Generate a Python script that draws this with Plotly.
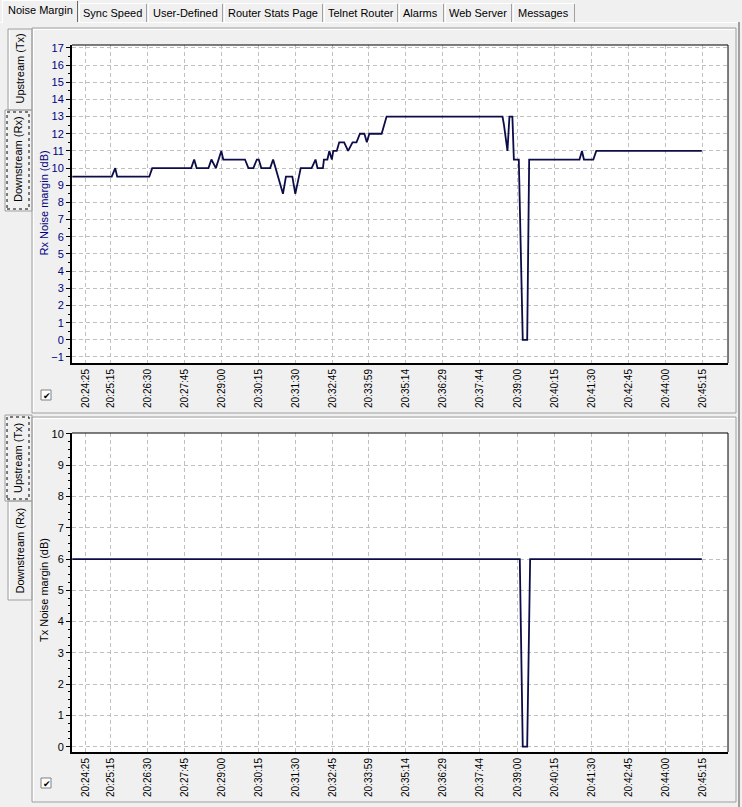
import plotly.graph_objects as go

W, H = 742, 807
DAY = "2024-01-01 "
FONT = "Liberation Sans, Arial, sans-serif"
LINE = "#0c0c48"
NAVY = "#000080"
GRID = "#c0c0c0"
FACE = "#f0f0f0"

tab_names = ["Noise Margin", "Sync Speed", "User-Defined", "Router Stats Page",
             "Telnet Router", "Alarms", "Web Server", "Messages"]

time_ticks = ["20:24:25", "20:25:15", "20:26:30", "20:27:45", "20:29:00", "20:30:15",
              "20:31:30", "20:32:45", "20:33:59", "20:35:14", "20:36:29", "20:37:44",
              "20:39:00", "20:40:15", "20:41:30", "20:42:45", "20:44:00", "20:45:15"]

# downstream (Rx) noise margin, dB
rx_times = ["20:23:58", "20:25:18", "20:25:25", "20:25:29", "20:26:34", "20:26:40",
            "20:27:59", "20:28:05", "20:28:10", "20:28:34", "20:28:40", "20:28:49",
            "20:29:00", "20:29:04", "20:29:48", "20:29:55", "20:30:05", "20:30:12",
            "20:30:16", "20:30:21", "20:30:39", "20:30:45", "20:30:50", "20:31:05",
            "20:31:11", "20:31:24", "20:31:30", "20:31:41", "20:32:03", "20:32:11",
            "20:32:15", "20:32:26", "20:32:28", "20:32:35", "20:32:39", "20:32:44",
            "20:32:47", "20:32:54", "20:32:59", "20:33:09", "20:33:17", "20:33:26",
            "20:33:34", "20:33:41", "20:33:50", "20:33:55", "20:34:00", "20:34:25",
            "20:34:35", "20:38:30", "20:38:33", "20:38:40", "20:38:44", "20:38:50",
            "20:38:53", "20:39:03", "20:39:11", "20:39:20", "20:39:24", "20:41:06",
            "20:41:11", "20:41:15", "20:41:34", "20:41:40", "20:45:14"]
rx_margin = [9.5, 9.5, 10, 9.5, 9.5, 10,
             10, 10.5, 10, 10, 10.5, 10,
             11, 10.5, 10.5, 10, 10, 10.5,
             10.5, 10, 10, 10.5, 10, 8.5,
             9.5, 9.5, 8.5, 10, 10, 10.5,
             10, 10, 10.5, 10.5, 11, 10.5,
             11, 11, 11.5, 11.5, 11, 11.5,
             11.5, 12, 12, 11.5, 12, 12,
             13, 13, 12.5, 11, 13, 13,
             10.5, 10.5, 0, 0, 10.5, 10.5,
             11, 10.5, 10.5, 11, 11]

# upstream (Tx) noise margin, dB
tx_times = ["20:23:58", "20:39:05", "20:39:11", "20:39:20", "20:39:26", "20:45:14"]
tx_margin = [6, 6, 0, 0, 6, 6]

x_range = [DAY + "20:23:57.4", DAY + "20:46:07"]


def px(x):
    return x / W


def py(y):
    return 1 - y / H


def time_axis(anchor):
    return dict(type="date", domain=[px(72), px(728)], range=x_range, anchor=anchor,
                tickmode="array", tickvals=[DAY + t for t in time_ticks], ticktext=time_ticks,
                tickangle=-90, tickfont=dict(family=FONT, size=10, color="black"),
                showgrid=True, gridcolor=GRID, gridwidth=1, griddash="4px,3px",
                showline=True, linecolor="black", linewidth=2, ticks="",
                zeroline=False, automargin=False, fixedrange=True)


def margin_axis(anchor, dom, rng, color, minor_step):
    return dict(domain=dom, range=rng, anchor=anchor, tickmode="linear", tick0=0, dtick=1,
                ticks="outside", ticklen=4, tickcolor="black", tickwidth=1,
                tickfont=dict(family=FONT, size=11, color=color),
                showgrid=True, gridcolor=GRID, gridwidth=1, griddash="4px,3px",
                showline=True, linecolor="black", linewidth=2, zeroline=False,
                minor=dict(ticks="outside", ticklen=2, dtick=minor_step,
                           tickcolor="black", showgrid=False),
                automargin=False, fixedrange=True)


fig = go.Figure()
fig.add_trace(go.Scatter(x=[DAY + t for t in rx_times], y=rx_margin, mode="lines",
                         line=dict(color=LINE, width=1.8), xaxis="x", yaxis="y",
                         showlegend=False))
fig.add_trace(go.Scatter(x=[DAY + t for t in tx_times], y=tx_margin, mode="lines",
                         line=dict(color=LINE, width=1.8), xaxis="x2", yaxis="y2",
                         showlegend=False))

shapes = []
annotations = []


def hline(x0, x1, y, color, width=1, dash="solid"):
    shapes.append(dict(type="line", xref="paper", yref="paper", x0=px(x0), x1=px(x1),
                       y0=py(y), y1=py(y), line=dict(color=color, width=width, dash=dash)))


def vline(x, y0, y1, color, width=1, dash="solid"):
    shapes.append(dict(type="line", xref="paper", yref="paper", x0=px(x), x1=px(x),
                       y0=py(y0), y1=py(y1), line=dict(color=color, width=width, dash=dash)))


def box(x0, y0, x1, y1, color, fill=None, dash="solid"):
    shapes.append(dict(type="rect", xref="paper", yref="paper", x0=px(x0), x1=px(x1),
                       y0=py(y1), y1=py(y0), fillcolor=fill or "rgba(0,0,0,0)",
                       line=dict(color=color, width=1, dash=dash)))


def label(text, x, y, size=11, color="black", angle=0):
    annotations.append(dict(text=text, x=px(x), y=py(y), xref="paper", yref="paper",
                            showarrow=False, textangle=angle, xanchor="center",
                            yanchor="middle", font=dict(family=FONT, size=size, color=color)))


# top tab strip
tab_edges = [2, 78, 147, 223, 323, 398, 444, 512, 575]
hline(0, 2, 22.5, "white")
hline(78, 739, 22.5, "white")
for i, name in enumerate(tab_names):
    x0, x1 = tab_edges[i], tab_edges[i + 1]
    if i == 0:
        vline(x0 + 0.5, 23, 1, "white")
        hline(x0, x1 - 1, 0.5, "white")
        vline(x1 - 0.5, 1, 22, "#696969")
        label(name, (x0 + x1) / 2, 10)
    else:
        vline(x0 + 1.5, 22, 4, "white")
        hline(x0 + 1, x1 - 1, 3.5, "white")
        vline(x1 - 0.5, 4, 22, "#a0a0a0")
        label(name, (x0 + x1) / 2, 13)

# outer frame on the right
vline(739, 22, 807, "#a0a0a0", 2)

# the two chart panels
for top, bottom in [(28, 413), (417, 802)]:
    box(32, top, 736, bottom, "#a0a0a0")
    hline(33, 735, top + 1.5, "white")
    vline(33.5, top + 1, bottom - 1, "white")

# vertical side tabs: (text, x center, y center, box, selected)
side_tabs = [
    ("Upstream (Tx)", 19.5, 69, (8, 29, 32, 110), False),
    ("Downstream (Rx)", 18, 159, (5, 110, 32, 211), True),
    ("Upstream (Tx)", 18, 458, (5, 415, 32, 501), True),
    ("Downstream (Rx)", 19.5, 551, (8, 501, 32, 600), False),
]
for text, cx, cy, (x0, y0, x1, y1), selected in side_tabs:
    box(x0, y0, x1, y1, "#a0a0a0")
    vline(x0 + 1.5, y0 + 1, y1 - 1, "white")
    if selected:
        box(x0 + 2, y0 + 2, x1 - 3, y1 - 2, "black", dash="dot")
    label(text, cx, cy, 11, "black", -90)

# checkboxes
for x0, y0 in [(41, 390), (41, 778)]:
    box(x0, y0, x0 + 10, y0 + 10, "#808080", fill="white")
    label("✔", x0 + 5.5, y0 + 5.5, 9, "black")

# y axis titles
label("Rx Noise margin (dB)", 43.5, 203, 11, NAVY, -90)
label("Tx Noise margin (dB)", 44, 590, 11, "black", -90)

# thin top/right borders of the plot frames
for xr, yr in [("x domain", "y domain"), ("x2 domain", "y2 domain")]:
    shapes.append(dict(type="line", xref=xr, yref=yr, x0=0, x1=1, y0=1, y1=1,
                       line=dict(color="black", width=1)))
    shapes.append(dict(type="line", xref=xr, yref=yr, x0=1, x1=1, y0=0, y1=1,
                       line=dict(color="black", width=1)))

fig.update_layout(
    width=W, height=H,
    margin=dict(l=0, r=0, t=0, b=0),
    template="none",
    paper_bgcolor=FACE,
    plot_bgcolor="white",
    font=dict(family=FONT, size=11, color="black"),
    xaxis=time_axis("y"),
    yaxis=margin_axis("x", [py(363), py(45)], [-1.35, 17.17], NAVY, 0.5),
    xaxis2=time_axis("y2"),
    yaxis2=margin_axis("x2", [py(752), py(433)], [-0.17, 10.03], "black", 0.25),
    shapes=shapes,
    annotations=annotations,
    showlegend=False,
)

# drop the browser's default 8px body margin so the figure sits at the window origin
fig.write_html("out.html", config={"displayModeBar": False},
               post_script="document.body.style.margin='0px';"
                           "document.body.style.background='" + FACE + "';")
